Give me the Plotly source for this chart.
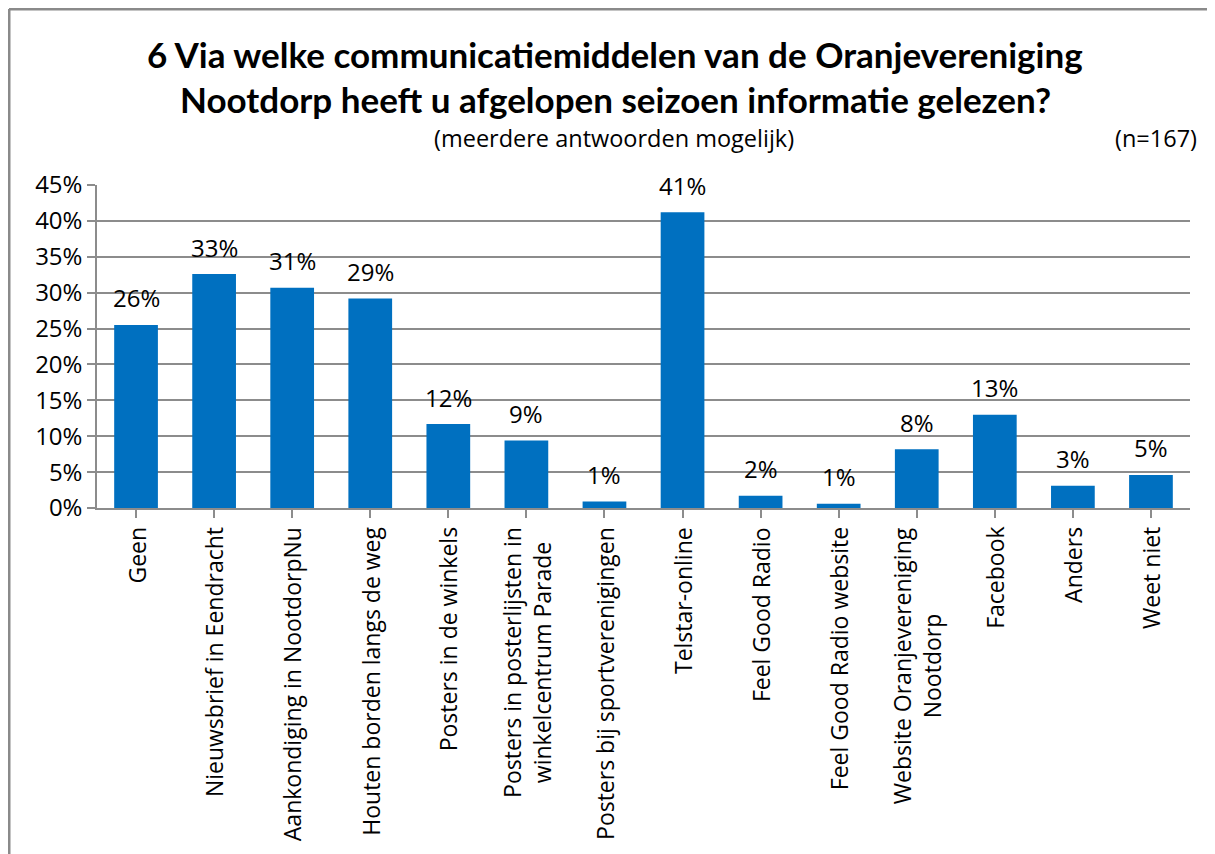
import plotly.graph_objects as go

categories = [
    "Geen",
    "Nieuwsbrief in Eendracht",
    "Aankondiging in NootdorpNu",
    "Houten borden langs de weg",
    "Posters in de winkels",
    "Posters in posterlijsten in<br>winkelcentrum Parade",
    "Posters bij sportverenigingen",
    "Telstar-online",
    "Feel Good Radio",
    "Feel Good Radio website",
    "Website Oranjevereniging<br>Nootdorp",
    "Facebook",
    "Anders",
    "Weet niet",
]
values = [25.5, 32.6, 30.7, 29.2, 11.7, 9.4, 0.9, 41.2, 1.7, 0.6, 8.2, 13.0, 3.1, 4.6]
value_labels = ["26%", "33%", "31%", "29%", "12%", "9%", "1%", "41%", "2%", "1%", "8%", "13%", "3%", "5%"]
y_ticks = [0, 5, 10, 15, 20, 25, 30, 35, 40, 45]
y_tick_labels = ["0%", "5%", "10%", "15%", "20%", "25%", "30%", "35%", "40%", "45%"]

title_line1 = "6 Via welke communicatiemiddelen van de Oranjevereniging"
title_line2 = "Nootdorp heeft u afgelopen seizoen informatie gelezen?"
subtitle = "(meerdere antwoorden mogelijk)"
n_label = "(n=167)"

# page offset of 8px (body margin) compensated
OFF = 8
W, H = 1215 - OFF, 854 - OFF
L, T = 97 - OFF, 185 - OFF
R = W - (1190 - OFF)
B = H - (508 - OFF)
pw, ph = W - L - R, H - T - B

def px(x):
    return (x - OFF - L) / pw

def py(y):
    return (H - B - (y - OFF)) / ph

FONT = "Open Sans"
BAR = "#0070C0"
GRID = "#8c8c8c"

fig = go.Figure()
fig.add_trace(go.Bar(
    x=list(range(len(categories))),
    y=values,
    marker=dict(color=BAR, line=dict(width=0)),
    width=0.56,
    hoverinfo="skip",
))

annotations = []
for i, (v, t) in enumerate(zip(values, value_labels)):
    annotations.append(dict(
        x=i, xref="x", y=v, yref="y", text=t, showarrow=False,
        xanchor="center", yanchor="middle", yshift=27,
        font=dict(family=FONT, size=24, color="black"),
    ))
for i, c in enumerate(categories):
    annotations.append(dict(
        x=i, xref="x", y=py(525), yref="paper",
        text=c, textangle=-90, showarrow=False,
        xanchor="center", yanchor="top", align="center",
        font=dict(family=FONT, size=23, color="black"),
    ))

annotations += [
    dict(x=px(615), y=py(54), xref="paper", yref="paper", text="<b>" + title_line1 + "</b>",
         showarrow=False, xanchor="center", yanchor="middle",
         font=dict(family="Lato", size=35, color="black")),
    dict(x=px(615), y=py(99), xref="paper", yref="paper", text="<b>" + title_line2 + "</b>",
         showarrow=False, xanchor="center", yanchor="middle",
         font=dict(family="Lato", size=35, color="black")),
    dict(x=px(614), y=py(138), xref="paper", yref="paper", text=subtitle,
         showarrow=False, xanchor="center", yanchor="middle",
         font=dict(family=FONT, size=23.5, color="black")),
    dict(x=px(1199), y=py(138), xref="paper", yref="paper", text=n_label,
         showarrow=False, xanchor="right", yanchor="middle",
         font=dict(family=FONT, size=23.5, color="black")),
]

border = dict(color="#8a8a8a", width=3)
fig.update_layout(
    width=W, height=H,
    margin=dict(l=L, r=R, t=T, b=B, pad=0),
    paper_bgcolor="white", plot_bgcolor="white",
    showlegend=False,
    annotations=annotations,
    shapes=[
        dict(type="line", xref="paper", yref="paper",
             x0=px(9), x1=px(1215), y0=py(9), y1=py(9), line=border, layer="below"),
        dict(type="line", xref="paper", yref="paper",
             x0=px(9), x1=px(9), y0=py(9), y1=py(860), line=border, layer="below"),
    ],
    xaxis=dict(
        range=[-0.5, len(categories) - 0.5],
        tickmode="array", tickvals=list(range(len(categories))),
        ticktext=[""] * len(categories),
        showgrid=False, zeroline=False,
        showline=True, linecolor=GRID, linewidth=1.5,
        ticks="outside", tickson="boundaries", ticklen=8, tickcolor=GRID, tickwidth=1.5,
    ),
    yaxis=dict(
        range=[0, 45],
        tickmode="array", tickvals=y_ticks, ticktext=y_tick_labels,
        tickfont=dict(family=FONT, size=24, color="black"),
        showgrid=True, gridcolor=GRID, gridwidth=1.5,
        zeroline=False,
        showline=True, linecolor=GRID, linewidth=1.5,
        ticks="outside", ticklen=8, tickcolor=GRID, tickwidth=1.5,
    ),
)

fig.write_html(
    "out.html",
    post_script="document.documentElement.style.overflow='hidden';document.body.style.overflow='hidden';",
)
